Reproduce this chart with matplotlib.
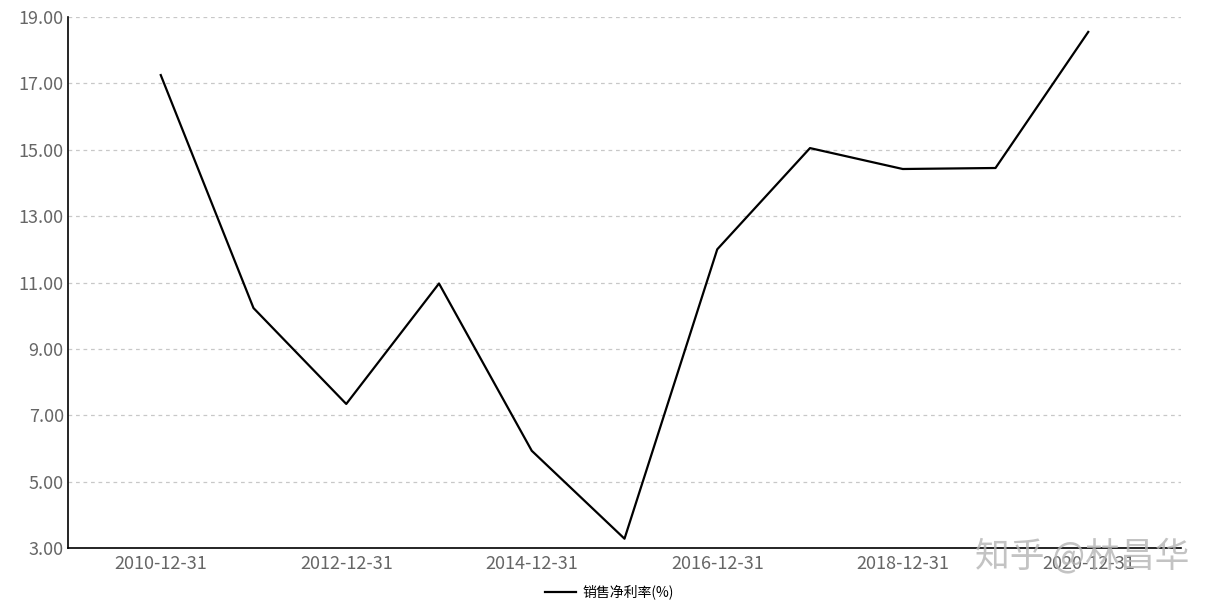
import matplotlib.pyplot as plt

plt.rcParams['font.family'] = ['Noto Sans CJK SC', 'DejaVu Sans']

dates = ['2010-12-31', '2011-12-31', '2012-12-31', '2013-12-31', '2014-12-31',
         '2015-12-31', '2016-12-31', '2017-12-31', '2018-12-31', '2019-12-31',
         '2020-12-31']
net_margin = [17.25, 10.23, 7.34, 10.97, 5.93, 3.28, 12.0, 15.05, 14.42, 14.45, 18.55]
y_ticks = [3, 5, 7, 9, 11, 13, 15, 17, 19]

W, H = 1219, 607
fig = plt.figure(figsize=(W / 100, H / 100), dpi=100)
ax = fig.add_axes([68 / W, 1 - 548 / H, (1181 - 68) / W, (548 - 17) / H])

x = list(range(len(dates)))
line, = ax.plot(x, net_margin, color='black', lw=1.6, label='销售净利率(%)')

ax.set_xlim(-1, len(dates))
ax.set_ylim(3, 19)
ax.set_yticks(y_ticks)
ax.set_yticklabels(['%.2f' % v for v in y_ticks])
ax.set_xticks(x[::2])
ax.set_xticklabels(dates[::2])

ax.grid(axis='y', color='#c8c8c8', ls=(0, (3, 3)), lw=0.9)
ax.set_axisbelow(True)
for s in ['top', 'right']:
    ax.spines[s].set_visible(False)
for s in ['left', 'bottom']:
    ax.spines[s].set_color('black')
    ax.spines[s].set_linewidth(1.2)
ax.tick_params(length=0, labelsize=13, labelcolor='#666666', pad=3)
ax.tick_params(axis='x', pad=5)

fig.legend(handles=[line], loc='center', bbox_to_anchor=(0.5, 1 - 592 / H),
           frameon=False, fontsize=10, handlelength=2.2, handletextpad=0.5)

fig.text(1189 / W, 1 - 556 / H, '知乎 @林昌华', ha='right', va='center',
         fontsize=25, color='#b4b4b4', alpha=0.8, zorder=5)

fig.savefig('out.png', dpi=100)
